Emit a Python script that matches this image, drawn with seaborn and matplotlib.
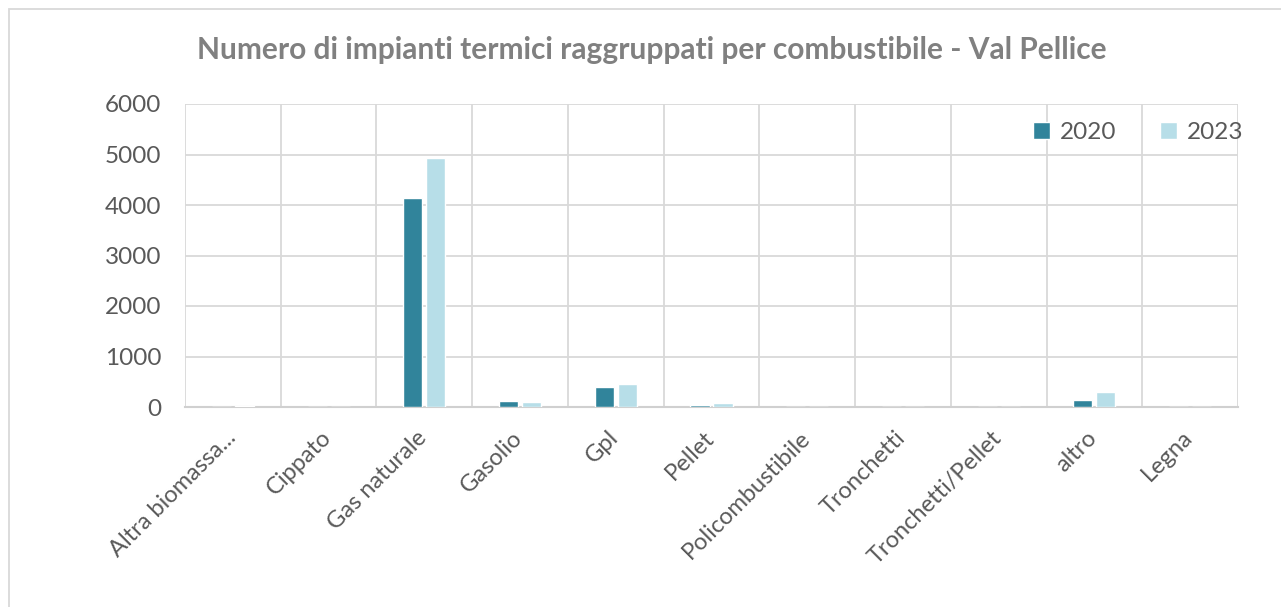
import matplotlib.pyplot as plt
import matplotlib.transforms as mtransforms
import seaborn as sns
import numpy as np
import pandas as pd
from matplotlib.patches import Rectangle

# Data
categories = ['Altra biomassa...', 'Cippato', 'Gas naturale', 'Gasolio', 'Gpl', 'Pellet',
              'Policombustibile', 'Tronchetti', 'Tronchetti/Pellet', 'altro', 'Legna']
values_2020 = [0, 0, 4130, 113, 387, 35, 0, 0, 0, 135, 0]
values_2023 = [12, 0, 4925, 100, 453, 73, 0, 0, 0, 293, 0]
years = ['2020', '2023']
palette = ['#31849B', '#B7DEE8']

df = pd.DataFrame({
    'Combustibile': categories * 2,
    'Anno': [years[0]] * len(categories) + [years[1]] * len(categories),
    'Impianti': values_2020 + values_2023,
})

sns.set_theme(style="white")
plt.rcParams['font.family'] = ['Lato', 'DejaVu Sans']

fig = plt.figure(figsize=(12.81, 6.07), dpi=100)
ax = fig.add_axes([185 / 1281, 1 - 407 / 607, (1238 - 185) / 1281, (407 - 104) / 607])

sns.barplot(data=df, x='Combustibile', y='Impianti', hue='Anno', order=categories,
            hue_order=years, palette=palette, width=0.48, gap=0.17, saturation=1,
            ax=ax, zorder=3)

grid_col = '#D9D9D9'
ax.set_xlim(-0.5, len(categories) - 0.5)
ax.set_ylim(0, 6000)
ax.set_yticks(np.arange(0, 6001, 1000))
ax.set_xticks(np.arange(len(categories) + 1) - 0.5, minor=True)
ax.grid(True, axis='y', which='major', color=grid_col, linewidth=1.3)
ax.grid(True, axis='x', which='minor', color=grid_col, linewidth=1.3)
ax.grid(False, axis='x', which='major')
for s in ['top', 'right', 'left']:
    ax.spines[s].set_visible(False)
ax.spines['bottom'].set_color('#D0D0D0')
ax.spines['bottom'].set_linewidth(1.5)
ax.tick_params(axis='both', which='both', length=0, colors='#595959')
ax.tick_params(axis='y', labelsize=17.5, pad=17)
ax.set_xlabel('')
ax.set_ylabel('')
ax.set_xticks(np.arange(len(categories)))
ax.set_xticklabels(categories, rotation=45, ha='right', va='top', rotation_mode='anchor',
                   fontsize=17, color='#595959')
# nudge the rotated labels so their ends sit under the category centres
offset = mtransforms.ScaledTranslation(-8 / 100, -15 / 100, fig.dpi_scale_trans)
for lbl in ax.get_xticklabels():
    lbl.set_transform(lbl.get_transform() + offset)

leg = ax.legend(loc='upper right', bbox_to_anchor=(1265 / 1281, 1 - 100 / 607),
                bbox_transform=fig.transFigure, ncol=2, frameon=False, fontsize=17.5,
                handlelength=0.7, handleheight=0.7, handletextpad=0.4, columnspacing=1.8)
for t in leg.get_texts():
    t.set_color('#595959')

fig.text(652 / 1281, 1 - 50 / 607, 'Numero di impianti termici raggruppati per combustibile - Val Pellice',
         ha='center', va='center', fontsize=21.5, fontweight='bold', color='#808080')

fig.patches.append(Rectangle((9 / 1281, -0.05), 1.1, 1 - 9 / 607 + 0.05, transform=fig.transFigure,
                             fill=False, edgecolor='#D9D9D9', linewidth=1.3))

fig.savefig('out.png', dpi=100)
